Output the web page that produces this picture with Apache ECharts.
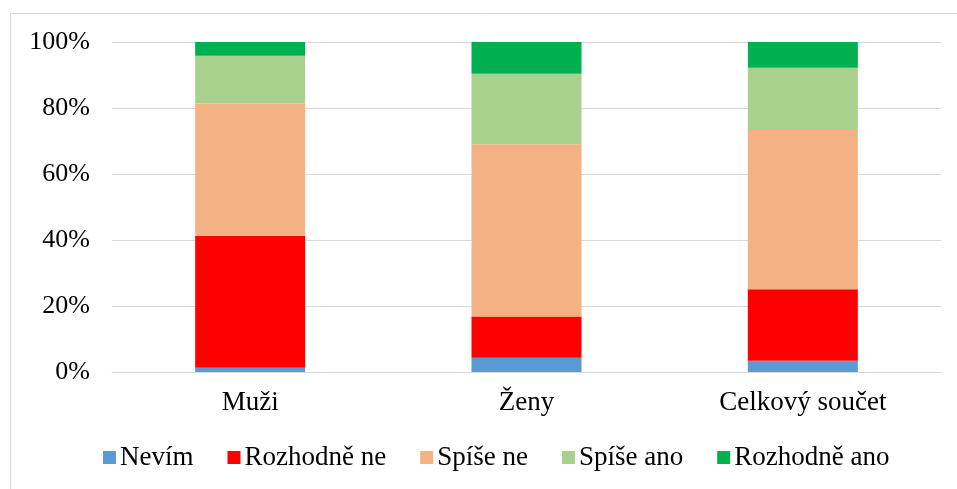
<!DOCTYPE html>
<html>
<head>
<meta charset="utf-8">
<script src="https://cdn.jsdelivr.net/npm/echarts@6/dist/echarts.min.js"></script>
<style>html,body{margin:0;padding:0;background:#fff}#c{width:957px;height:489px}</style>
</head>
<body>
<div id="c"></div>
<script>
const categories = ['Muži', 'Ženy', 'Celkový součet'];
const seriesNames = ['Nevím', 'Rozhodně ne', 'Spíše ne', 'Spíše ano', 'Rozhodně ano'];
const nevim = [1.3, 4.3, 3.4];
const rozhodneNe = [40.0, 12.5, 21.7];
const spiseNe = [40.1, 52.2, 48.2];
const spiseAno = [14.4, 21.4, 18.9];
const rozhodneAno = [4.2, 9.6, 7.8];
const yTicks = [0, 20, 40, 60, 80, 100];
const colors = ['#5B9BD5', '#FF0000', '#F4B183', '#A9D18E', '#00B050'];

const values = [nevim, rozhodneNe, spiseNe, spiseAno, rozhodneAno];
const font = "'Liberation Serif', 'Times New Roman', serif";

const chart = echarts.init(document.getElementById('c'), null, {renderer: 'canvas'});
chart.setOption({
  animation: false,
  backgroundColor: '#fff',
  textStyle: {fontFamily: font},
  graphic: [{
    type: 'rect', z: -1,
    shape: {x: 10.5, y: 13.5, width: 960, height: 490},
    style: {fill: 'none', stroke: '#d9d9d9', lineWidth: 1}
  }],
  grid: {left: 112, right: 16, top: 42, bottom: 117, containLabel: false},
  legend: {
    data: seriesNames,
    bottom: 13,
    left: 98,
    itemWidth: 13, itemHeight: 13, itemGap: 34,
    icon: 'rect',
    textStyle: {fontFamily: font, fontSize: 27, color: '#000', padding: [0, 0, 0, -1]}
  },
  xAxis: {
    type: 'category',
    data: categories,
    axisLine: {lineStyle: {color: '#d9d9d9'}},
    axisTick: {show: false},
    axisLabel: {fontFamily: font, fontSize: 27, color: '#000', margin: 17}
  },
  yAxis: {
    type: 'value',
    min: 0, max: 100, interval: 20,
    axisLine: {show: false},
    axisTick: {show: false},
    splitLine: {lineStyle: {color: '#d9d9d9', width: 1}},
    axisLabel: {
      fontFamily: font, fontSize: 26, color: '#000', margin: 22,
      formatter: v => yTicks.includes(v) ? v + '%' : ''
    }
  },
  series: seriesNames.map((n, i) => ({
    name: n,
    type: 'bar',
    stack: 'total',
    barWidth: 110,
    itemStyle: {color: colors[i]},
    data: values[i]
  }))
});
</script>
</body>
</html>
